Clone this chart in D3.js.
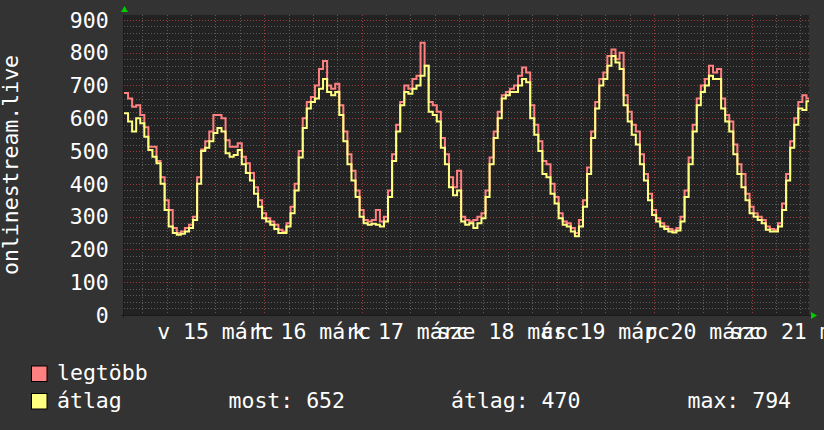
<!DOCTYPE html>
<html><head><meta charset="utf-8">
<script src="https://cdn.jsdelivr.net/npm/d3@7"></script>
<style>
html,body{margin:0;padding:0;background:#333333;}
svg{display:block;}
text{font-family:"DejaVu Sans Mono",monospace;fill:#ffffff;}
</style></head>
<body><svg id="c" width="824" height="430"></svg>
<script>
// hourly samples starting 2020-03-14 13:30
const startTime = "2020-03-14T13:30:00";
const endTime = "2020-03-21T14:08:00";
const maxValues = [677,660,635,640,610,573,513,513,470,420,350,320,265,250,255,265,275,300,420,505,530,560,610,610,600,533,513,513,524,483,463,433,390,350,310,295,285,275,260,255,280,330,400,500,600,650,665,700,750,775,700,690,705,640,560,490,440,380,320,290,285,290,320,285,300,380,490,580,650,700,690,720,730,830,760,650,640,620,540,490,420,390,440,300,290,285,290,300,310,380,480,560,620,670,680,690,700,730,755,740,640,580,530,470,460,400,360,310,285,280,265,250,290,350,450,560,650,720,740,790,810,780,800,670,620,580,560,490,430,370,320,295,280,270,262,258,265,300,380,480,580,660,700,720,760,740,750,660,610,590,520,460,430,370,330,310,300,290,270,262,260,280,340,430,530,600,650,670,660];
const avgValues = [615,590,560,600,585,544,503,483,463,400,320,270,250,245,248,255,265,290,400,500,510,530,555,570,560,493,483,488,503,460,433,410,370,330,295,285,275,262,250,250,270,310,380,480,570,630,650,660,690,720,680,670,680,610,530,460,410,360,300,280,275,278,275,270,285,360,470,560,640,680,675,690,700,730,760,620,610,590,510,460,390,365,380,285,275,280,265,280,295,360,460,540,600,660,670,680,680,700,720,710,600,550,500,430,420,370,340,295,275,270,255,240,270,330,430,540,630,700,720,760,790,770,750,640,590,550,520,460,410,350,305,285,270,262,255,252,258,285,360,460,560,640,680,700,730,720,720,630,590,560,490,430,390,350,310,300,290,280,260,255,255,270,320,410,510,580,630,625,652];
const yTicks = [0,100,200,300,400,500,600,700,800,900];
const dayLabels = ["v 15 márc","h 16 márc","k 17 márc","sze 18 márc","cs 19 márc","p 20 márc","szo 21 márc"];
const dayDates = ["2020-03-15","2020-03-16","2020-03-17","2020-03-18","2020-03-19","2020-03-20","2020-03-21"];
const seriesNames = ["legtöbb","átlag"];
const seriesColors = ["#ff8080","#ffff80"];
const stats = ["most: 652","átlag: 470","max: 794"];

const svg = d3.select("#c");
const L=124, R=809, T=15, B=315;
const t0 = new Date(startTime), t1 = new Date(endTime);
const x = d3.scaleTime().domain([t0,t1]).range([L,R]);
const y = d3.scaleLinear().domain([0,915]).range([B,T]);

svg.append("rect").attr("x",L).attr("y",T).attr("width",R-L).attr("height",B-T).attr("fill","#222222");

// minor horizontal grid
const g = svg.append("g");
d3.range(20,915,20).filter(v=>v%100!==0).forEach(v=>{
  g.append("line").attr("x1",L).attr("x2",R).attr("y1",Math.round(y(v))+0.5).attr("y2",Math.round(y(v))+0.5)
   .attr("stroke","#5c5c5c").attr("stroke-dasharray","1,2");
});
// minor vertical grid (6h)
const minorTimes = d3.timeHour.every(6).range(t0,t1).filter(d=>d.getHours()!==0);
minorTimes.forEach(d=>{
  g.append("line").attr("x1",Math.round(x(d))+0.5).attr("x2",Math.round(x(d))+0.5).attr("y1",T).attr("y2",B)
   .attr("stroke","#5c5c5c").attr("stroke-dasharray","1,2");
});
// major grid
yTicks.filter(v=>v>0).forEach(v=>{
  g.append("line").attr("x1",L).attr("x2",R).attr("y1",Math.round(y(v))+0.5).attr("y2",Math.round(y(v))+0.5)
   .attr("stroke","#9a3c3c").attr("stroke-dasharray","1,2");
});
dayDates.forEach(s=>{
  const d = new Date(s+"T00:00:00");
  g.append("line").attr("x1",Math.round(x(d))+0.5).attr("x2",Math.round(x(d))+0.5).attr("y1",T).attr("y2",B)
   .attr("stroke","#9a3c3c").attr("stroke-dasharray","1,2");
});

// data lines
function mk(vals){
  const pts = vals.map((v,i)=>({t:d3.timeHour.offset(t0,i),v}));
  pts.push({t:t1,v:vals[vals.length-1]});
  return pts;
}
const line = d3.line().x(d=>x(d.t)).y(d=>y(d.v)).curve(d3.curveStepAfter);
[maxValues,avgValues].forEach((vals,k)=>{
  svg.append("path").datum(mk(vals)).attr("d",line).attr("fill","none")
    .attr("stroke",seriesColors[k]).attr("stroke-width",2);
});

// axes
svg.append("line").attr("x1",L-0.5).attr("x2",L-0.5).attr("y1",T).attr("y2",B+3).attr("stroke","#1a1a1a");
svg.append("line").attr("x1",L-3).attr("x2",R+2).attr("y1",B+0.5).attr("y2",B+0.5).attr("stroke","#1a1a1a");
svg.append("path").attr("d",`M${L-3},12 L${L+4},12 L${L+0.5},6 Z`).attr("fill","#00cc00");
svg.append("path").attr("d",`M${R+2},${B-3} L${R+2},${B+4} L${R+8},${B+0.5} Z`).attr("fill","#00cc00");

// y tick labels
svg.append("g").selectAll("text").data(yTicks).join("text")
  .attr("x",108.6).attr("y",d=>y(d)).attr("dy","0.36em").attr("text-anchor","end")
  .attr("font-size","21.5px").text(d=>d);

// x labels at noon
svg.append("g").selectAll("text").data(dayDates).join("text")
  .attr("x",d=>x(new Date(d+"T12:00:00"))).attr("y",338.5).attr("text-anchor","middle")
  .attr("font-size","21.5px").text((d,i)=>dayLabels[i]);

// vertical title
svg.append("text").attr("transform","translate(18,165) rotate(-90)").attr("text-anchor","middle")
  .attr("font-size","21.5px").text("onlinestream.live");

// legend
seriesNames.forEach((n,i)=>{
  const yy = i===0?366:393.5;
  svg.append("rect").attr("x",31.5).attr("y",yy).attr("width",15.5).attr("height",15.5)
    .attr("fill",seriesColors[i]).attr("stroke","#000").attr("stroke-width",1);
  svg.append("text").attr("x",57).attr("y",i===0?380:408.3).attr("font-size","21.5px").text(n);
});
const statX = [228.5,451,687.5];
stats.forEach((s,i)=>{
  svg.append("text").attr("x",statX[i]).attr("y",408.3).attr("font-size","21.5px").text(s);
});
</script></body></html>
